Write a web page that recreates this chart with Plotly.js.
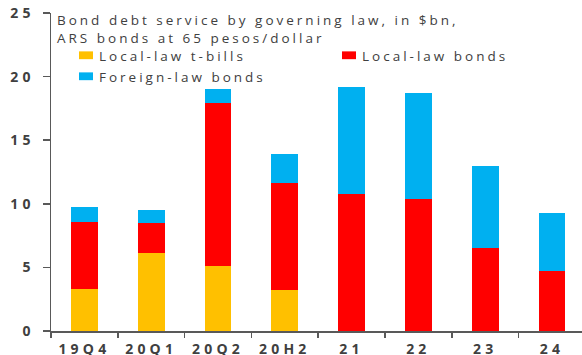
<!DOCTYPE html>
<html>
<head>
<meta charset="utf-8">
<script src="https://cdn.plot.ly/plotly-3.0.1.min.js"></script>
<style>
html, body { margin: 0; padding: 0; overflow: hidden; background: #fff; }
#chart { width: 582px; height: 355px; }
/* the reference text is drawn wide: widen our glyph spacing to match */
text { letter-spacing: 3px; }
.xtick text, .ytick text { letter-spacing: 4.2px; }
/* flatter legend swatches, as in the reference */
.legendpoints path { transform: translate(27px, 0px) scale(1.17, 0.65); }
</style>
</head>
<body>
<div id="chart"></div>
<script>
// Data (US$ bn)
var categories = ['19Q4', '20Q1', '20Q2', '20H2', '21', '22', '23', '24'];
var localTbills = [3.3, 6.1, 5.1, 3.2, 0, 0, 0, 0];
var localBonds = [5.25, 2.4, 12.85, 8.4, 10.8, 10.4, 6.55, 4.7];
var foreignBonds = [1.2, 1.0, 1.05, 2.35, 8.4, 8.35, 6.4, 4.6];
var seriesNames = ['Local-law t-bills', 'Local-law bonds', 'Foreign-law bonds'];
var yTicks = [0, 5, 10, 15, 20, 25];
var titleLines = ['Bond debt service by governing law, in $bn,', 'ARS bonds at 65 pesos/dollar'];

var colors = ['#FFC000', '#FF0000', '#00B0F0'];
var textColor = '#404040';
var fontFamily = '"Open Sans", Lato, sans-serif';
var legendNames = ['legend', 'legend2', 'legend3'];

var W = 582, H = 355;
var M = { l: 51, r: 0, t: 13, b: 24 };
var plotW = W - M.l - M.r, plotH = H - M.t - M.b;

var allSeries = [localTbills, localBonds, foreignBonds];
var traces = allSeries.map(function (vals, i) {
  return {
    type: 'bar',
    x: categories,
    y: vals,
    name: seriesNames[i],
    legend: legendNames[i],
    marker: { color: colors[i], line: { width: 0 } },
    hoverinfo: 'x+y+name'
  };
});

// place a one-item legend inside the plot area, given page pixels
function legendAt(xPx, yPx) {
  return {
    orientation: 'v',
    xref: 'paper',
    yref: 'paper',
    x: (xPx - M.l) / plotW,
    xanchor: 'left',
    y: 1 - (yPx - M.t) / plotH,
    yanchor: 'top',
    itemwidth: 30,
    bgcolor: 'rgba(0,0,0,0)',
    borderwidth: 0,
    font: { family: fontFamily, size: 13.5, color: textColor }
  };
}

var layout = {
  width: W,
  height: H,
  margin: { l: M.l, r: M.r, t: M.t, b: M.b, pad: 0 },
  paper_bgcolor: '#fff',
  plot_bgcolor: '#fff',
  barmode: 'stack',
  bargap: 0.6,
  font: { family: fontFamily, color: textColor, size: 13.5 },
  title: {
    text: titleLines.join('<br>'),
    x: 57 / W,
    xref: 'container',
    xanchor: 'left',
    y: 1 - 25 / H,
    yref: 'container',
    yanchor: 'top',
    font: { family: fontFamily, size: 13.5, color: textColor }
  },
  showlegend: true,
  legend: legendAt(59, 40),
  legend2: legendAt(322, 40),
  legend3: legendAt(59, 61),
  xaxis: {
    type: 'category',
    range: [-0.5, 7.45],
    showline: true,
    linecolor: '#595959',
    linewidth: 1.5,
    ticks: 'outside',
    tickson: 'boundaries',
    ticklen: 5,
    tickwidth: 1.5,
    tickcolor: '#595959',
    showgrid: false,
    zeroline: false,
    tickangle: 0,
    automargin: false,
    ticklabelstandoff: 5,
    tickfont: { family: fontFamily, size: 14, color: textColor, weight: 'bold' }
  },
  yaxis: {
    range: [0, 25],
    tickvals: yTicks,
    ticktext: yTicks.map(String),
    showline: true,
    linecolor: '#595959',
    linewidth: 1.5,
    ticks: 'outside',
    ticklen: 7,
    tickwidth: 1.5,
    tickcolor: '#595959',
    showgrid: false,
    zeroline: false,
    automargin: false,
    ticklabelstandoff: 5,
    tickfont: { family: fontFamily, size: 14, color: textColor, weight: 'bold' }
  }
};

Plotly.newPlot('chart', traces, layout, { displayModeBar: false, staticPlot: true });
</script>
</body>
</html>
